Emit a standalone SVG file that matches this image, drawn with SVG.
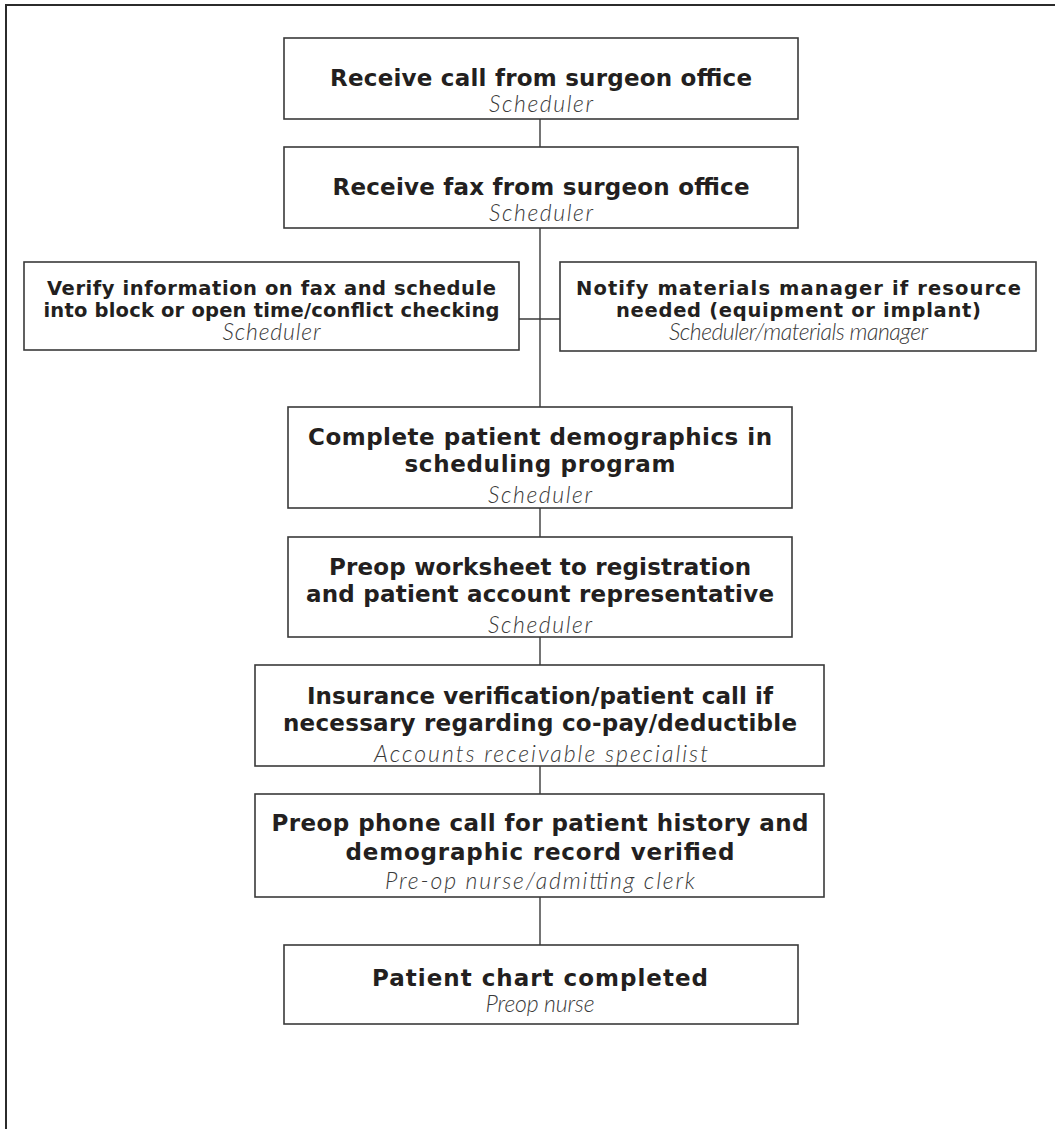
<svg xmlns="http://www.w3.org/2000/svg" width="1055" height="1129" viewBox="0 0 1055 1129">
<style>
.box{fill:#fff;stroke:#3a3a3a;stroke-width:1.6}
.t{font-family:"DejaVu Sans","Liberation Sans",sans-serif;font-weight:700;fill:#231f20;text-anchor:middle}
.t23{font-size:23px}
.t20{font-size:19.5px}
.r{font-family:Lato,"Open Sans","Liberation Sans",sans-serif;font-weight:300;font-style:italic;font-size:23px;fill:#3a3a3a;text-anchor:middle}
.c{stroke:#3a3a3a;stroke-width:1.4;fill:none}
</style>
<rect x="0" y="0" width="1055" height="1129" fill="#fff"/>
<path d="M6,1129 V5 H1055" fill="none" stroke="#2b2b2b" stroke-width="2"/>
<g id="connectors">
<line class="c" x1="540" y1="119" x2="540" y2="147"/>
<line class="c" x1="540" y1="228" x2="540" y2="407"/>
<line class="c" x1="519" y1="319" x2="560" y2="319"/>
<line class="c" x1="540" y1="508" x2="540" y2="537"/>
<line class="c" x1="540" y1="637" x2="540" y2="665"/>
<line class="c" x1="540" y1="766" x2="540" y2="794"/>
<line class="c" x1="540" y1="897" x2="540" y2="945"/>
</g>
<g id="n1">
<rect class="box" x="284" y="38" width="514" height="81"/>
<text class="t t23" x="541" y="86" textLength="422" lengthAdjust="spacing">Receive call from surgeon office</text>
<text class="r" x="541" y="112" textLength="104" lengthAdjust="spacing">Scheduler</text>
</g>
<g id="n2">
<rect class="box" x="284" y="147" width="514" height="81"/>
<text class="t t23" x="541" y="195" textLength="417" lengthAdjust="spacing">Receive fax from surgeon office</text>
<text class="r" x="541" y="221" textLength="104" lengthAdjust="spacing">Scheduler</text>
</g>
<g id="n3">
<rect class="box" x="24" y="262" width="495" height="88"/>
<text class="t t20" x="271.5" y="295" textLength="449" lengthAdjust="spacing">Verify information on fax and schedule</text>
<text class="t t20" x="271.5" y="317" textLength="456" lengthAdjust="spacing">into block or open time/conflict checking</text>
<text class="r" x="271.5" y="340" textLength="98" lengthAdjust="spacing">Scheduler</text>
</g>
<g id="n4">
<rect class="box" x="560" y="262" width="476" height="89"/>
<text class="t t20" x="798.5" y="295" textLength="445" lengthAdjust="spacing">Notify materials manager if resource</text>
<text class="t t20" x="798.5" y="317" textLength="365" lengthAdjust="spacing">needed (equipment or implant)</text>
<text class="r" x="798.5" y="340" textLength="259" lengthAdjust="spacing">Scheduler/materials manager</text>
</g>
<g id="n5">
<rect class="box" x="288" y="407" width="504" height="101"/>
<text class="t t23" x="540" y="445" textLength="464" lengthAdjust="spacing">Complete patient demographics in</text>
<text class="t t23" x="540" y="472" textLength="271" lengthAdjust="spacing">scheduling program</text>
<text class="r" x="540" y="503" textLength="104" lengthAdjust="spacing">Scheduler</text>
</g>
<g id="n6">
<rect class="box" x="288" y="537" width="504" height="100"/>
<text class="t t23" x="540" y="575" textLength="422" lengthAdjust="spacing">Preop worksheet to registration</text>
<text class="t t23" x="540" y="602" textLength="468" lengthAdjust="spacing">and patient account representative</text>
<text class="r" x="540" y="633" textLength="104" lengthAdjust="spacing">Scheduler</text>
</g>
<g id="n7">
<rect class="box" x="255" y="665" width="569" height="101"/>
<text class="t t23" x="540" y="704" textLength="466" lengthAdjust="spacing">Insurance verification/patient call if</text>
<text class="t t23" x="540" y="731" textLength="514" lengthAdjust="spacing">necessary regarding co-pay/deductible</text>
<text class="r" x="541" y="762" textLength="334" lengthAdjust="spacing">Accounts receivable specialist</text>
</g>
<g id="n8">
<rect class="box" x="255" y="794" width="569" height="103"/>
<text class="t t23" x="540" y="831" textLength="537" lengthAdjust="spacing">Preop phone call for patient history and</text>
<text class="t t23" x="540" y="860" textLength="389" lengthAdjust="spacing">demographic record verified</text>
<text class="r" x="540" y="889" textLength="310" lengthAdjust="spacing">Pre-op nurse/admitting clerk</text>
</g>
<g id="n9">
<rect class="box" x="284" y="945" width="514" height="79"/>
<text class="t t23" x="540" y="986" textLength="336" lengthAdjust="spacing">Patient chart completed</text>
<text class="r" x="540" y="1012" textLength="109" lengthAdjust="spacing">Preop nurse</text>
</g>
</svg>
